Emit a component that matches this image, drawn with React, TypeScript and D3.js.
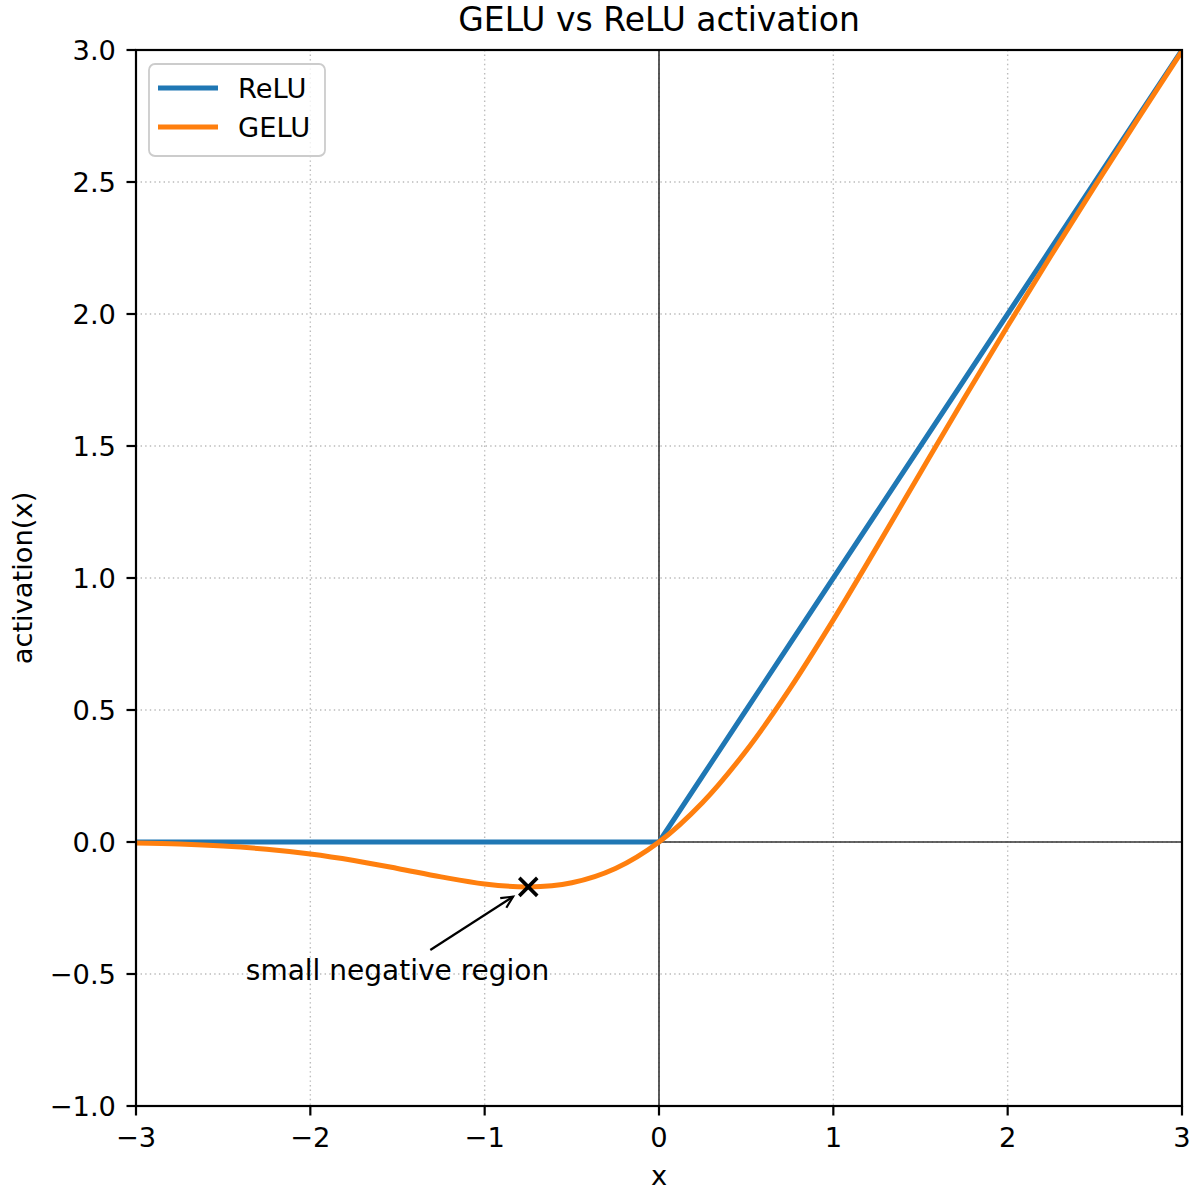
import React from "react";
import * as d3 from "d3";

const xValues = [-3, -2.75, -2.5, -2.25, -2, -1.75, -1.5, -1.25, -1, -0.75, -0.5, -0.25, 0, 0.25, 0.5, 0.75, 1, 1.25, 1.5, 1.75, 2, 2.25, 2.5, 2.75, 3];
const reluValues = [0, 0, 0, 0, 0, 0, 0, 0, 0, 0, 0, 0, 0, 0.25, 0.5, 0.75, 1, 1.25, 1.5, 1.75, 2, 2.25, 2.5, 2.75, 3];
const geluValues = [-0.004, -0.008, -0.0155, -0.0275, -0.0455, -0.0701, -0.1002, -0.1321, -0.1587, -0.17, -0.1543, -0.1003, 0, 0.1497, 0.3457, 0.58, 0.8413, 1.1179, 1.3998, 1.6799, 1.9545, 2.2225, 2.4845, 2.7418, 2.996];
const xTicks = [-3, -2, -1, 0, 1, 2, 3];
const yTicks = [-1.0, -0.5, 0.0, 0.5, 1.0, 1.5, 2.0, 2.5, 3.0];
const seriesNames = ["ReLU", "GELU"];
const seriesColors = ["#1f77b4", "#ff7f0e"];
const annotationPoint = [-0.75, -0.17];
const annotationTextPos = [-1.5, -0.523];
const annotationText = "small negative region";
const titleText = "GELU vs ReLU activation";
const xLabel = "x";
const yLabel = "activation(x)";

const FONT = "'DejaVu Sans', sans-serif";
const FS = 27.3;

export default function App() {
  const left = 136, right = 1182, top = 50, bottom = 1106;
  const x = d3.scaleLinear().domain([-3, 3]).range([left, right]);
  const y = d3.scaleLinear().domain([-1, 3]).range([bottom, top]);
  const fmtY = (v: number) => v.toFixed(1).replace("-", "\u2212");
  const fmtX = (v: number) => String(v).replace("-", "\u2212");

  const reluLine = d3.line<number>().x((_, i) => x(xValues[i])).y((d) => y(d));
  const geluLine = d3
    .line<number>()
    .x((_, i) => x(xValues[i]))
    .y((d) => y(d))
    .curve(d3.curveCatmullRom.alpha(0.5));

  const px = x(annotationPoint[0]);
  const py = y(annotationPoint[1]);
  const tx = x(annotationTextPos[0]);
  const ty = y(annotationTextPos[1]);
  const tcy = ty - 9;
  const dx = px - tx, dy = py - tcy;
  const L = Math.sqrt(dx * dx + dy * dy);
  const ux = dx / L, uy = dy / L;
  const sx = tx + ux * 39, sy = tcy + uy * 39;
  const ex = px - ux * 18, ey = py - uy * 18;
  const ah = 13;
  const ang = Math.atan2(uy, ux);
  const a1 = ang + Math.PI - 0.45, a2 = ang + Math.PI + 0.45;

  return (
    <svg width={1200} height={1200} style={{ position: "absolute", left: 0, top: 0, background: "#fff" }} fontFamily={FONT}>
      <defs>
        <clipPath id="plotclip">
          <rect x={left} y={top} width={right - left} height={bottom - top} />
        </clipPath>
      </defs>
      <rect x={0} y={0} width={1200} height={1200} fill="#fff" />
      {/* grid */}
      <g stroke="#b0b0b0" strokeWidth={1.4} strokeDasharray="1.4,3.2" opacity={0.85}>
        {xTicks.map((t) => (
          <line key={"gx" + t} x1={x(t)} x2={x(t)} y1={top} y2={bottom} />
        ))}
        {yTicks.map((t) => (
          <line key={"gy" + t} x1={left} x2={right} y1={y(t)} y2={y(t)} />
        ))}
      </g>
      {/* zero lines */}
      <g stroke="#333" strokeWidth={1.6}>
        <line x1={left} x2={right} y1={y(0)} y2={y(0)} />
        <line x1={x(0)} x2={x(0)} y1={top} y2={bottom} />
      </g>
      {/* series */}
      <g clipPath="url(#plotclip)" fill="none" strokeLinecap="butt" strokeLinejoin="round">
        <path d={reluLine(reluValues) || ""} stroke={seriesColors[0]} strokeWidth={5} />
        <path d={geluLine(geluValues) || ""} stroke={seriesColors[1]} strokeWidth={5} />
      </g>
      {/* marker */}
      <g stroke="#000" strokeWidth={3.6}>
        <line x1={px - 9} x2={px + 9} y1={py - 9} y2={py + 9} />
        <line x1={px - 9} x2={px + 9} y1={py + 9} y2={py - 9} />
      </g>
      {/* annotation */}
      <g stroke="#000" strokeWidth={2.2} fill="none">
        <line x1={sx} y1={sy} x2={ex} y2={ey} />
        <polyline
          points={`${ex + ah * Math.cos(a1)},${ey + ah * Math.sin(a1)} ${ex},${ey} ${ex + ah * Math.cos(a2)},${ey + ah * Math.sin(a2)}`}
        />
      </g>
      <text x={tx} y={ty} fontSize={28} textAnchor="middle" fill="#000">
        {annotationText}
      </text>
      {/* spines */}
      <rect x={left} y={top} width={right - left} height={bottom - top} fill="none" stroke="#000" strokeWidth={2.2} />
      {/* ticks */}
      <g stroke="#000" strokeWidth={2.2}>
        {xTicks.map((t) => (
          <line key={"tx" + t} x1={x(t)} x2={x(t)} y1={bottom} y2={bottom + 9.5} />
        ))}
        {yTicks.map((t) => (
          <line key={"ty" + t} x1={left - 9.5} x2={left} y1={y(t)} y2={y(t)} />
        ))}
      </g>
      <g fontSize={FS} fill="#000">
        {xTicks.map((t) => (
          <text key={"lx" + t} x={x(t)} y={1147} textAnchor="middle">
            {fmtX(t)}
          </text>
        ))}
        {yTicks.map((t) => (
          <text key={"ly" + t} x={116} y={y(t) + 10} textAnchor="end">
            {fmtY(t)}
          </text>
        ))}
      </g>
      <text x={(left + right) / 2} y={1185} fontSize={FS} textAnchor="middle">
        {xLabel}
      </text>
      <text transform={`translate(32, ${(top + bottom) / 2}) rotate(-90)`} fontSize={FS} textAnchor="middle">
        {yLabel}
      </text>
      <text x={(left + right) / 2} y={31} fontSize={33} textAnchor="middle">
        {titleText}
      </text>
      {/* legend */}
      <g>
        <rect x={149} y={64} width={176} height={92} rx={6} fill="#fff" fillOpacity={0.8} stroke="#cccccc" strokeWidth={1.8} />
        {seriesNames.map((n, i) => (
          <g key={n}>
            <line x1={158} x2={218} y1={88 + i * 39} y2={88 + i * 39} stroke={seriesColors[i]} strokeWidth={5} />
            <text x={238} y={88 + i * 39 + 10} fontSize={FS} fill="#000">
              {n}
            </text>
          </g>
        ))}
      </g>
    </svg>
  );
}
